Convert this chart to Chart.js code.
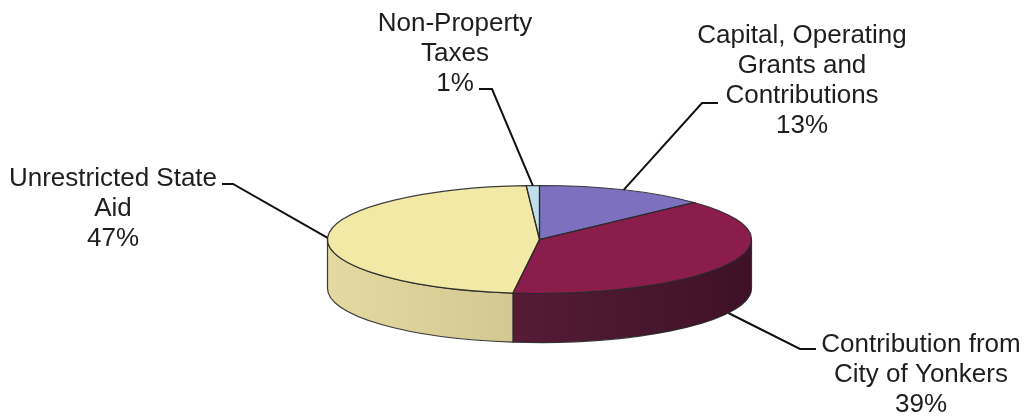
<!DOCTYPE html>
<html>
<head>
<meta charset="utf-8">
<title>Revenue sources</title>
<script src="https://cdn.jsdelivr.net/npm/chart.js@4.4.0/dist/chart.umd.min.js"></script>
<style>
  html, body { margin: 0; padding: 0; background: #fff; }
  #wrap { width: 1027px; height: 417px; position: relative; }
</style>
</head>
<body>
<div id="wrap"><canvas id="pieChart"></canvas></div>
<script>
var categories = [
  ["Capital, Operating", "Grants and", "Contributions"],
  ["Contribution from", "City of Yonkers"],
  ["Unrestricted State", "Aid"],
  ["Non-Property", "Taxes"]
];
var shares = [13, 39, 47, 1];

var topColors = ["#7c70bf", "#8a1d4c", "#f3e9a7", "#bfe0ea"];
var sideColors = [["#5f5598", "#4d4480"], ["#561b37", "#3e1128"], ["#e3d9a1", "#d3c891"], ["#9fc0ca", "#8fb0ba"]];

// label text centre, first baseline, elbow of the leader line and end of its short tail
var labelPlaces = [
  { x: 802, y: 43, elbow: [702, 103], tail: 718 },
  { x: 921, y: 352, elbow: [800, 349], tail: 816 },
  { x: 113, y: 186, elbow: [233, 184], tail: 222 },
  { x: 455, y: 31, elbow: [492, 89], tail: 479 }
];

var PIE_RX = 212, PIE_RY = 54, PIE_DEPTH = 49;
var OUTLINE = "rgba(40,40,40,0.9)";

// flatten the library's circle into the top face ellipse
function squash(ctx, el) {
  var r = el.outerRadius;
  ctx.translate(el.x, el.y);
  ctx.scale(PIE_RX / r, PIE_RY / r);
  ctx.translate(-el.x, -el.y);
}

var pie3d = {
  id: 'pie3d',
  beforeDatasetsDraw: function (chart) {
    var ctx = chart.ctx;
    var arcs = chart.getDatasetMeta(0).data;
    var cx = arcs[0].x, cy = arcs[0].y;
    ctx.save();
    ctx.lineWidth = 1.2;
    ctx.strokeStyle = OUTLINE;
    arcs.forEach(function (a, i) {
      var s = Math.max(a.startAngle, 0), e = Math.min(a.endAngle, Math.PI);
      if (e <= s) return;
      var x0 = cx + PIE_RX * Math.cos(e), x1 = cx + PIE_RX * Math.cos(s);
      var g = ctx.createLinearGradient(x0, 0, x1, 0);
      g.addColorStop(0, sideColors[i][0]);
      g.addColorStop(1, sideColors[i][1]);
      ctx.beginPath();
      ctx.ellipse(cx, cy, PIE_RX, PIE_RY, 0, s, e);
      ctx.ellipse(cx, cy + PIE_DEPTH, PIE_RX, PIE_RY, 0, e, s, true);
      ctx.closePath();
      ctx.fillStyle = g;
      ctx.fill();
      ctx.stroke();
    });
    ctx.restore();
    ctx.save();
    squash(ctx, arcs[0]);
  },
  afterDatasetsDraw: function (chart) {
    var ctx = chart.ctx;
    ctx.restore();
    var arcs = chart.getDatasetMeta(0).data;
    var cx = arcs[0].x, cy = arcs[0].y;
    ctx.save();
    ctx.lineWidth = 1.2;
    ctx.strokeStyle = OUTLINE;
    arcs.forEach(function (a) {
      ctx.beginPath();
      ctx.moveTo(cx, cy);
      ctx.ellipse(cx, cy, PIE_RX, PIE_RY, 0, a.startAngle, a.endAngle);
      ctx.closePath();
      ctx.stroke();
    });
    ctx.restore();
  },
  afterDraw: function (chart) {
    var ctx = chart.ctx;
    var arcs = chart.getDatasetMeta(0).data;
    var cx = arcs[0].x, cy = arcs[0].y;
    ctx.save();
    ctx.font = '26px "Liberation Sans", Arial, sans-serif';
    ctx.textAlign = 'center';
    ctx.fillStyle = '#1e1e1e';
    ctx.strokeStyle = '#111';
    ctx.lineWidth = 2;
    arcs.forEach(function (a, i) {
      var p = labelPlaces[i];
      var lines = categories[i].concat([shares[i] + '%']);
      lines.forEach(function (t, j) {
        ctx.fillText(t, p.x, p.y + j * 30);
      });
      var mid = (a.startAngle + a.endAngle) / 2;
      var ax = cx + PIE_RX * Math.cos(mid);
      var ay = cy + PIE_RY * Math.sin(mid) + (Math.sin(mid) > 0.2 ? PIE_DEPTH : 0);
      ctx.beginPath();
      ctx.moveTo(p.tail, p.elbow[1]);
      ctx.lineTo(p.elbow[0], p.elbow[1]);
      ctx.lineTo(ax, ay);
      ctx.stroke();
    });
    ctx.restore();
  }
};

var ctxP = document.getElementById("pieChart").getContext('2d');

var myPieChart = new Chart(ctxP, {
  type: 'pie',
  data: {
    labels: categories,
    datasets: [{
      data: shares,
      backgroundColor: topColors,
      borderWidth: 0,
      clip: false
    }]
  },
  options: {
    responsive: true,
    maintainAspectRatio: false,
    animation: false,
    events: [],
    layout: { padding: { left: 362, right: 310, top: 62, bottom: 0 } },
    plugins: {
      legend: { display: false },
      tooltip: { enabled: false }
    }
  },
  plugins: [pie3d]
});
</script>
</body>
</html>
